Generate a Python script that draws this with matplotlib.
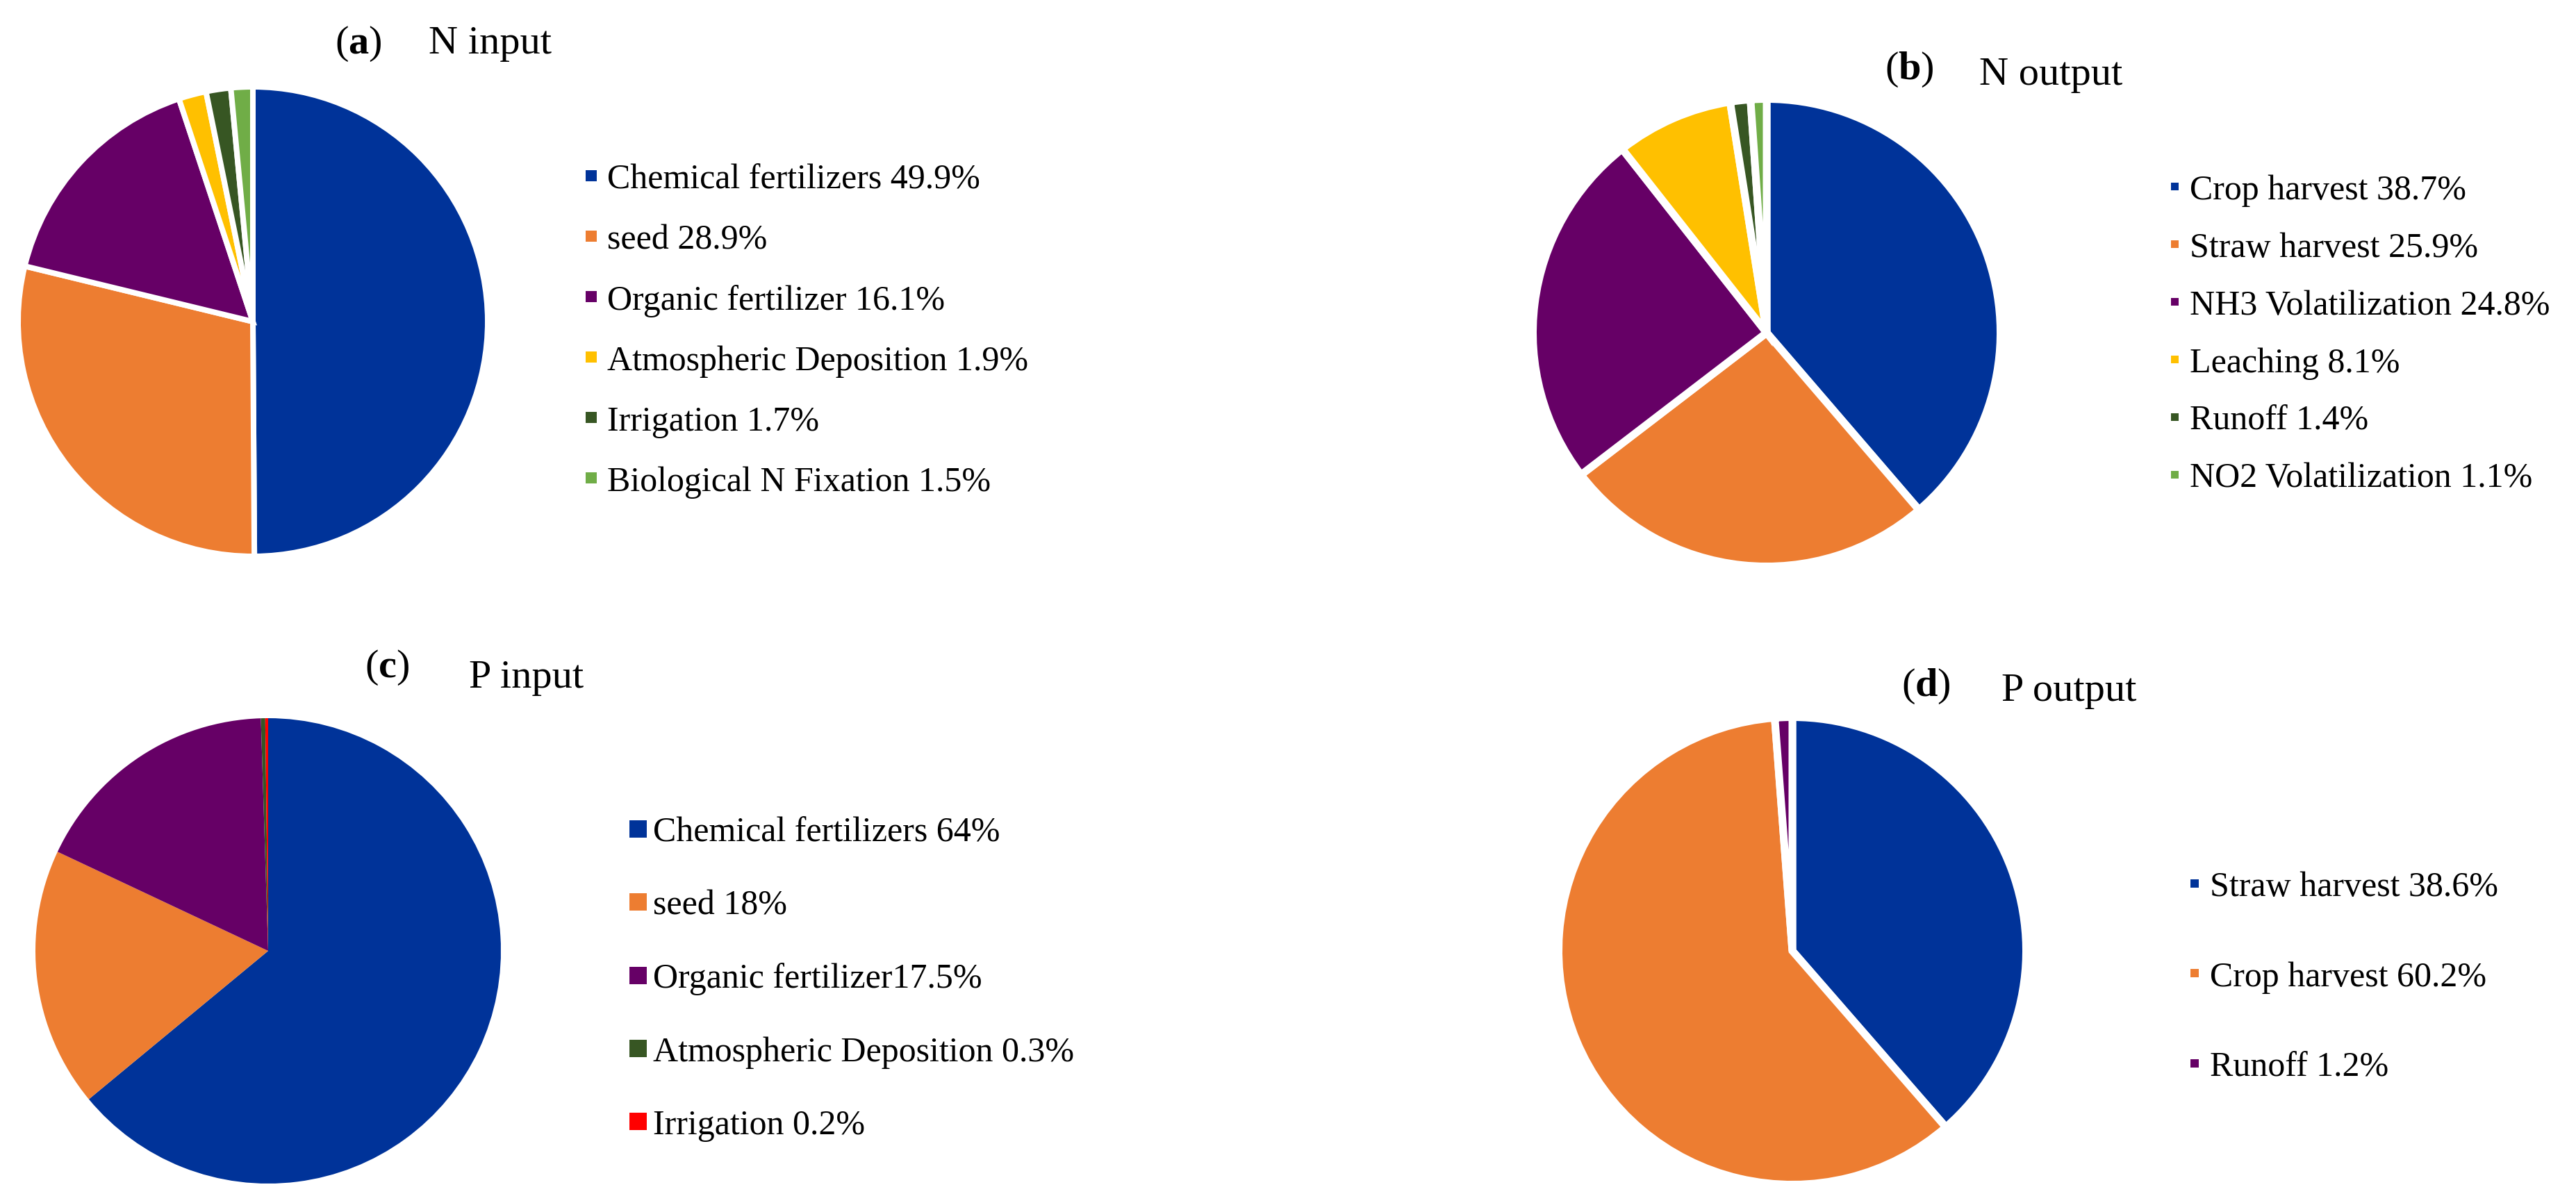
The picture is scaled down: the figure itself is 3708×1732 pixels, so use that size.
import matplotlib
matplotlib.use('Agg')
import matplotlib.pyplot as plt
from matplotlib.lines import Line2D
from matplotlib.font_manager import FontProperties

plt.rcParams['font.family'] = ['Liberation Serif', 'DejaVu Serif']
plt.rcParams['font.serif'] = ['Liberation Serif', 'DejaVu Serif']
plt.rcParams['mathtext.fontset'] = 'custom'
plt.rcParams['mathtext.rm'] = 'Liberation Serif'
plt.rcParams['mathtext.bf'] = 'Liberation Serif:bold'

# ---------------- data ----------------
a_values = [49.9, 28.9, 16.1, 1.9, 1.7, 1.5]
a_labels = ['Chemical fertilizers 49.9%', 'seed 28.9%', 'Organic fertilizer 16.1%',
            'Atmospheric Deposition 1.9%', 'Irrigation 1.7%', 'Biological N Fixation 1.5%']

b_values = [38.7, 25.9, 24.8, 8.1, 1.4, 1.1]
b_labels = ['Crop harvest 38.7%', 'Straw harvest 25.9%', 'NH3 Volatilization 24.8%',
            'Leaching 8.1%', 'Runoff 1.4%', 'NO2 Volatilization 1.1%']

c_values = [64, 18, 17.5, 0.3, 0.2]
c_labels = ['Chemical fertilizers 64%', 'seed 18%', 'Organic fertilizer17.5%',
            'Atmospheric Deposition 0.3%', 'Irrigation 0.2%']

d_values = [38.6, 60.2, 1.2]
d_labels = ['Straw harvest 38.6%', 'Crop harvest 60.2%', 'Runoff 1.2%']

titles_tag = ['a', 'b', 'c', 'd']
titles_text = ['N input', 'N output', 'P input', 'P output']

# ---------------- style ----------------
BLUE, ORANGE, PURPLE = '#003399', '#ED7D31', '#660066'
YELLOW, DGREEN, LGREEN, RED = '#FFC000', '#375623', '#70AD47', '#FF0000'
a_colors = [BLUE, ORANGE, PURPLE, YELLOW, DGREEN, LGREEN]
b_colors = [BLUE, ORANGE, PURPLE, YELLOW, DGREEN, LGREEN]
c_colors = [BLUE, ORANGE, PURPLE, DGREEN, RED]
d_colors = [BLUE, ORANGE, PURPLE]

W, H, DPI = 3708, 1733, 100
FS = 36
FPX = FS * DPI / 72.0
SERIF = ['Liberation Serif', 'DejaVu Serif']

fig = plt.figure(figsize=(W / DPI, H / DPI), dpi=DPI)
fig.patch.set_facecolor('white')


def fx(x):
    return x / W


def fy(y):
    return 1 - y / H


panels = [
    dict(v=a_values, l=a_labels, c=a_colors, cx=364, cy=464, r=334, lw=8,
         mx=843, mpx=16, tx=874, b0=275, b1=702,
         tag=(482, 77), txt=(617, 77)),
    dict(v=b_values, l=b_labels, c=b_colors, cx=2543, cy=480, r=331, lw=11,
         mx=3124, mpx=11, tx=3152, b0=290, b1=697,
         tag=(2713, 114), txt=(2849, 122)),
    dict(v=c_values, l=c_labels, c=c_colors, cx=386, cy=1370, r=335, lw=0,
         mx=905, mpx=25, tx=940, b0=1214, b1=1629,
         tag=(525, 975), txt=(675, 990)),
    dict(v=d_values, l=d_labels, c=d_colors, cx=2580, cy=1370, r=331, lw=11,
         mx=3153, mpx=12, tx=3181, b0=1291, b1=1547,
         tag=(2737, 1002), txt=(2881, 1009)),
]

for i, p in enumerate(panels):
    R = p['r'] + 10
    ax = fig.add_axes([fx(p['cx'] - R), fy(p['cy'] + R), 2 * R / W, 2 * R / H])
    rad = (p['r'] + p['lw'] / 2.0) / R
    wp = dict(edgecolor='white', linewidth=p['lw'] * 72.0 / DPI) if p['lw'] > 0 else dict(linewidth=0)
    ax.pie(p['v'], colors=p['c'], startangle=90, counterclock=False,
           radius=rad, wedgeprops=wp)
    ax.set_xlim(-1, 1)
    ax.set_ylim(-1, 1)
    ax.set_aspect('equal')
    ax.axis('off')

    n = len(p['l'])
    spacing = (p['b1'] - p['b0']) / (n - 1)
    text_h = 0.9 * FPX
    labelspacing = (spacing - text_h) / FPX
    mid_base = (p['b0'] + p['b1']) / 2.0
    center_y = mid_base - 0.233 * FPX
    handles = [Line2D([], [], linestyle='none', marker='s',
                      markersize=p['mpx'] * 72.0 / DPI, markerfacecolor=col,
                      markeredgewidth=0) for col in p['c']]
    fig.legend(handles, p['l'], loc='center left',
               bbox_to_anchor=(fx(p['mx']), fy(center_y)),
               bbox_transform=fig.transFigure, frameon=False,
               prop=FontProperties(family=SERIF, size=FS),
               handlelength=p['mpx'] / FPX,
               handletextpad=(p['tx'] - p['mx'] - p['mpx']) / FPX,
               labelspacing=labelspacing, borderpad=0, borderaxespad=0,
               numpoints=1)

    fig.text(fx(p['tag'][0]), fy(p['tag'][1]), r'($\mathbf{%s}$)' % titles_tag[i],
             fontsize=42, family=SERIF, ha='left', va='baseline')
    fig.text(fx(p['txt'][0]), fy(p['txt'][1]), titles_text[i],
             fontsize=42, family=SERIF, ha='left', va='baseline')

fig.savefig('out.png', dpi=DPI, facecolor='white')
